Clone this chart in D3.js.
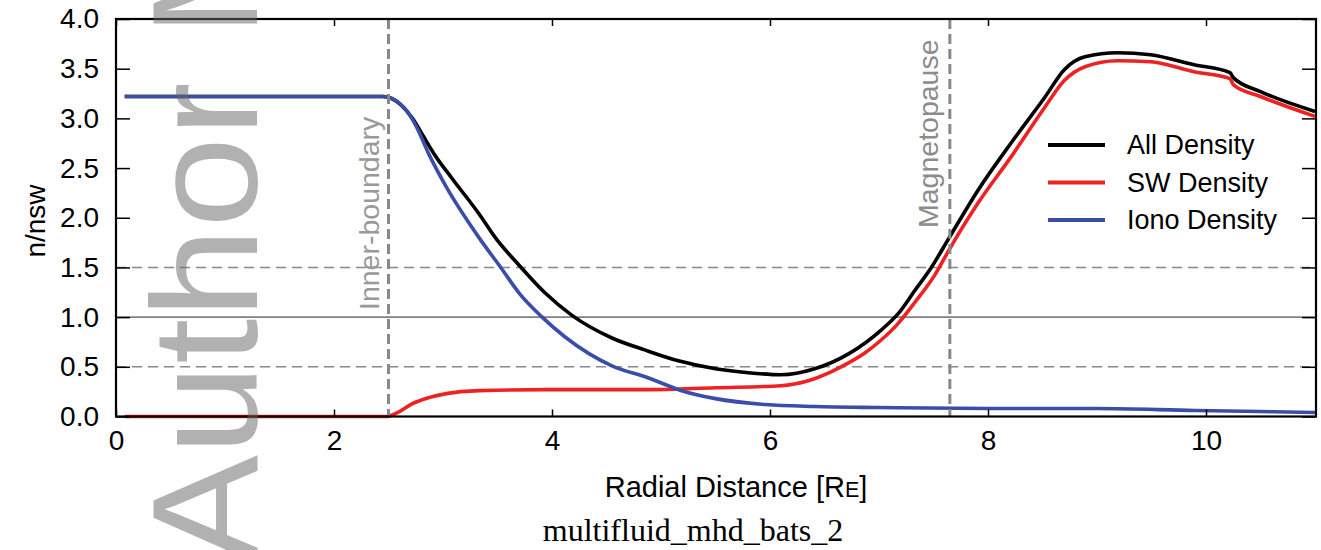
<!DOCTYPE html>
<html>
<head>
<meta charset="utf-8">
<script src="https://cdn.jsdelivr.net/npm/d3@7"></script>
<style>
  body { margin: 0; background: #fff; }
  svg { display: block; }
</style>
</head>
<body>
<script>
// density profiles along the radial line
let allR = [0.08, 2.45, 2.53, 2.62, 2.72, 2.82, 2.92, 3.08, 3.33, 3.48, 3.70, 3.94, 4.18, 4.55, 4.85, 5.16, 5.50, 5.80, 6.10, 6.41, 6.72, 7.02, 7.18, 7.33, 7.48, 7.65, 7.91, 8.21, 8.52, 8.70, 8.89, 9.19, 9.49, 9.89, 10.22, 10.25, 10.50, 11.0];
let allN = [3.22, 3.22, 3.20, 3.13, 3.00, 2.82, 2.64, 2.40, 2.04, 1.80, 1.52, 1.24, 1.02, 0.79, 0.67, 0.56, 0.48, 0.44, 0.42, 0.48, 0.63, 0.87, 1.04, 1.27, 1.50, 1.81, 2.28, 2.75, 3.21, 3.49, 3.62, 3.66, 3.64, 3.54, 3.46, 3.41, 3.27, 3.07];

let swR = [0.08, 2.48, 2.60, 2.72, 2.87, 3.03, 3.33, 3.94, 4.88, 5.50, 6.10, 6.35, 6.56, 6.72, 6.87, 7.02, 7.17, 7.33, 7.51, 7.65, 7.91, 8.21, 8.52, 8.70, 8.89, 9.19, 9.49, 9.89, 10.22, 10.25, 10.50, 11.0];
let swN = [0.0, 0.0, 0.05, 0.13, 0.19, 0.23, 0.26, 0.27, 0.27, 0.29, 0.31, 0.36, 0.45, 0.54, 0.64, 0.77, 0.93, 1.15, 1.42, 1.69, 2.15, 2.61, 3.11, 3.38, 3.52, 3.58, 3.57, 3.47, 3.40, 3.34, 3.22, 3.02];

let ionoR = [0.08, 2.45, 2.55, 2.65, 2.75, 2.87, 3.03, 3.33, 3.53, 3.70, 3.90, 4.12, 4.55, 4.88, 5.19, 5.50, 5.96, 6.41, 7.0, 8.0, 9.0, 9.9, 10.5, 11.0];
let ionoN = [3.22, 3.22, 3.19, 3.10, 2.93, 2.64, 2.31, 1.80, 1.50, 1.24, 1.01, 0.80, 0.51, 0.39, 0.26, 0.18, 0.12, 0.10, 0.09, 0.08, 0.08, 0.06, 0.05, 0.04];

let seriesNames = ["All Density", "SW Density", "Iono Density"];
let seriesColors = ["#000000", "#ee2222", "#3a4ea8"];

let xTicks = [0, 2, 4, 6, 8, 10];
let yTicks = [0, 0.5, 1, 1.5, 2, 2.5, 3, 3.5, 4];
let refDashed = [0.5, 1.5];
let refSolid = [1.0];
let boundaries = [{ r: 2.5, label: "Inner-boundary" }, { r: 7.65, label: "Magnetopause" }];

let sans = "'Liberation Sans', Arial, sans-serif";

// svg canvas
let width = 1321;
let height = 550;
let plotL = 116, plotR = 1316, plotT = 19, plotB = 416.5;

let svg = d3.select("body").append("svg")
  .attr("width", width)
  .attr("height", height)
  .style("font-family", sans);

let x = d3.scaleLinear().domain([0, 11]).range([plotL, plotL + 11 * 109]);
let y = d3.scaleLinear().domain([0, 4]).range([plotB, plotT]);

// reference lines
svg.selectAll(".refdash")
  .data(refDashed)
  .join("line")
  .attr("x1", plotL).attr("x2", plotR)
  .attr("y1", d => y(d)).attr("y2", d => y(d))
  .attr("stroke", "#888")
  .attr("stroke-width", 1.6)
  .attr("stroke-dasharray", "10,6");

svg.selectAll(".refsolid")
  .data(refSolid)
  .join("line")
  .attr("x1", plotL).attr("x2", plotR)
  .attr("y1", d => y(d)).attr("y2", d => y(d))
  .attr("stroke", "#808080")
  .attr("stroke-width", 1.6);

// curves
let line = d3.line()
  .x(d => x(d[0]))
  .y(d => y(d[1]))
  .curve(d3.curveMonotoneX);

let series = [
  d3.zip(allR, allN),
  d3.zip(swR, swN),
  d3.zip(ionoR, ionoN)
];

series.forEach(function (pts, i) {
  svg.append("path")
    .attr("d", line(pts))
    .attr("fill", "none")
    .attr("stroke", seriesColors[i])
    .attr("stroke-width", 3.6)
    .attr("stroke-linejoin", "round");
});

// boundary markers
boundaries.forEach(function (b) {
  svg.append("line")
    .attr("x1", x(b.r)).attr("x2", x(b.r))
    .attr("y1", plotT).attr("y2", plotB)
    .attr("stroke", "#888")
    .attr("stroke-width", 3)
    .attr("stroke-dasharray", "10,5");
});

svg.append("text")
  .attr("transform", `translate(${x(2.5) - 10},310) rotate(-90)`)
  .attr("font-size", 28.5)
  .attr("fill", "#999")
  .text(boundaries[0].label);

svg.append("text")
  .attr("transform", `translate(${x(7.65) - 12},228) rotate(-90)`)
  .attr("font-size", 28.5)
  .attr("fill", "#8c8c8c")
  .text(boundaries[1].label);

// axes, ticks pointing inwards
let axisStyle = function (g) {
  g.select(".domain").remove();
  g.selectAll(".tick line").attr("stroke", "#000").attr("stroke-width", 1.5);
  g.selectAll(".tick text")
    .style("font-family", sans)
    .attr("font-size", 28)
    .attr("fill", "#000");
};

svg.append("g")
  .attr("transform", `translate(0,${plotB})`)
  .call(d3.axisBottom(x).tickValues(xTicks).tickSize(-7).tickSizeOuter(0).tickPadding(14).tickFormat(d3.format("d")))
  .call(axisStyle);

svg.append("g")
  .attr("transform", `translate(0,${plotT})`)
  .call(d3.axisTop(x).tickValues(xTicks).tickSize(-7).tickSizeOuter(0).tickFormat(""))
  .call(axisStyle);

svg.append("g")
  .attr("transform", `translate(${plotL},0)`)
  .call(d3.axisLeft(y).tickValues(yTicks).tickSize(-14).tickSizeOuter(0).tickPadding(17).tickFormat(d3.format(".1f")))
  .call(axisStyle);

svg.append("g")
  .attr("transform", `translate(${plotR},0)`)
  .call(d3.axisRight(y).tickValues(yTicks).tickSize(-14).tickSizeOuter(0).tickFormat(""))
  .call(axisStyle);

// frame
svg.append("rect")
  .attr("x", plotL).attr("y", plotT)
  .attr("width", plotR - plotL).attr("height", plotB - plotT)
  .attr("fill", "none")
  .attr("stroke", "#000")
  .attr("stroke-width", 2.2);

// axis labels
let xl = svg.append("text")
  .attr("x", 736).attr("y", 497)
  .attr("text-anchor", "middle")
  .attr("font-size", 29);
xl.append("tspan").text("Radial Distance [R");
xl.append("tspan").attr("font-size", 21.5).text("E");
xl.append("tspan").text("]");

svg.append("text")
  .attr("transform", "translate(45,221) rotate(-90)")
  .attr("text-anchor", "middle")
  .attr("font-size", 28)
  .text("n/nsw");

// legend
let legend = svg.selectAll(".legend")
  .data(seriesNames)
  .join("g")
  .attr("transform", (d, i) => `translate(1048,${145 + i * 37.5})`);

legend.append("line")
  .attr("x1", 0).attr("x2", 57)
  .attr("stroke", (d, i) => seriesColors[i])
  .attr("stroke-width", 4);

legend.append("text")
  .attr("x", 79).attr("y", 9)
  .attr("font-size", 27)
  .text(d => d);

// caption
svg.append("text")
  .attr("x", 693).attr("y", 541)
  .attr("text-anchor", "middle")
  .style("font-family", "'Liberation Serif', 'Times New Roman', serif")
  .attr("font-size", 32)
  .text("multifluid_mhd_bats_2");

// watermark
svg.append("text")
  .attr("transform", "translate(257,564) rotate(-90) scale(1.09,1)")
  .attr("font-size", 150)
  .attr("fill", "#666")
  .attr("opacity", 0.5)
  .text("Author Manuscript");
</script>
</body>
</html>
